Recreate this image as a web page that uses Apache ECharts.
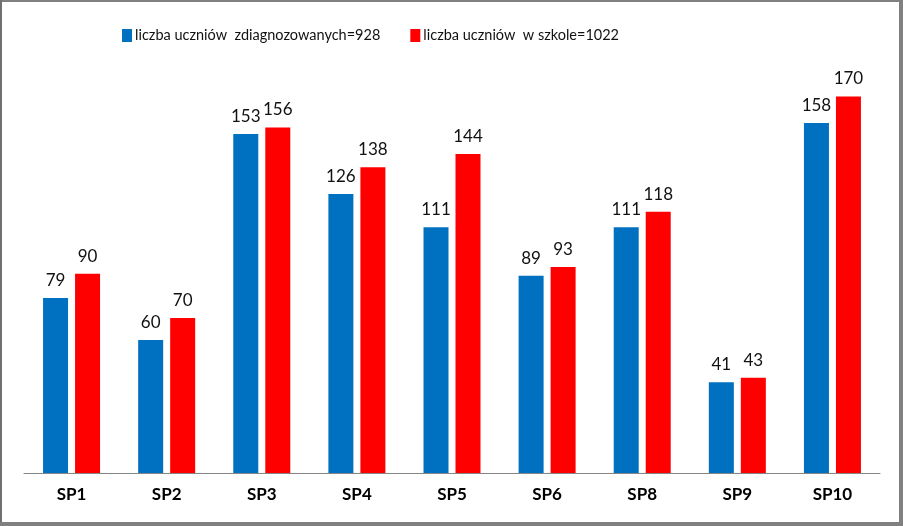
<!DOCTYPE html>
<html><head><meta charset="utf-8">
<script src="https://cdn.jsdelivr.net/npm/echarts@6/dist/echarts.min.js"></script>
<style>html,body{margin:0;padding:0;background:#fff}#c{width:903px;height:526px}</style>
</head><body><div id="c"></div>
<script>
const categories = ['SP1','SP2','SP3','SP4','SP5','SP6','SP8','SP9','SP10'];
const diagnosed = [79,60,153,126,111,89,111,41,158];
const inSchool = [90,70,156,138,144,93,118,43,170];
const seriesNames = ['liczba uczniów  zdiagnozowanych=928','liczba uczniów  w szkole=1022'];
const FONT = 'Lato, "Open Sans", sans-serif';
const chart = echarts.init(document.getElementById('c'));
const lbl = {show:true, position:'top', distance:9, color:'#111', fontSize:17, fontFamily:FONT};
chart.setOption({
  animation:false,
  backgroundColor:'#fff',
  legend:{left:117, top:23, itemWidth:10, itemHeight:13, itemGap:30,
    textStyle:{fontSize:14.5, fontFamily:FONT, color:'#111', padding:[0,0,0,-2]},
    icon:'rect', data:seriesNames},
  grid:{left:24, right:23, top:30, bottom:53},
  xAxis:{type:'category', data:categories,
    axisLine:{lineStyle:{color:'#868686', width:1}}, axisTick:{show:false},
    axisLabel:{fontSize:17, fontWeight:'bold', fontFamily:FONT, color:'#000', margin:13}},
  yAxis:{type:'value', min:0, max:200, show:false, splitLine:{show:false}},
  series:[
    {name:seriesNames[0], type:'bar', data:diagnosed, barWidth:25, barGap:'28%', itemStyle:{color:'#0070C0'}, label:lbl},
    {name:seriesNames[1], type:'bar', data:inSchool, barWidth:25, itemStyle:{color:'#FF0000'}, label:lbl}
  ],
  graphic:[
    {type:'rect', shape:{x:0,y:0,width:903,height:2}, style:{fill:'#808080'}, z:100},
    {type:'rect', shape:{x:0,y:0,width:2,height:526}, style:{fill:'#707070'}, z:100},
    {type:'rect', shape:{x:899,y:0,width:4,height:526}, style:{fill:'#808080'}, z:100},
    {type:'rect', shape:{x:0,y:522,width:903,height:4}, style:{fill:'#808080'}, z:100}
  ]
});
</script></body></html>
